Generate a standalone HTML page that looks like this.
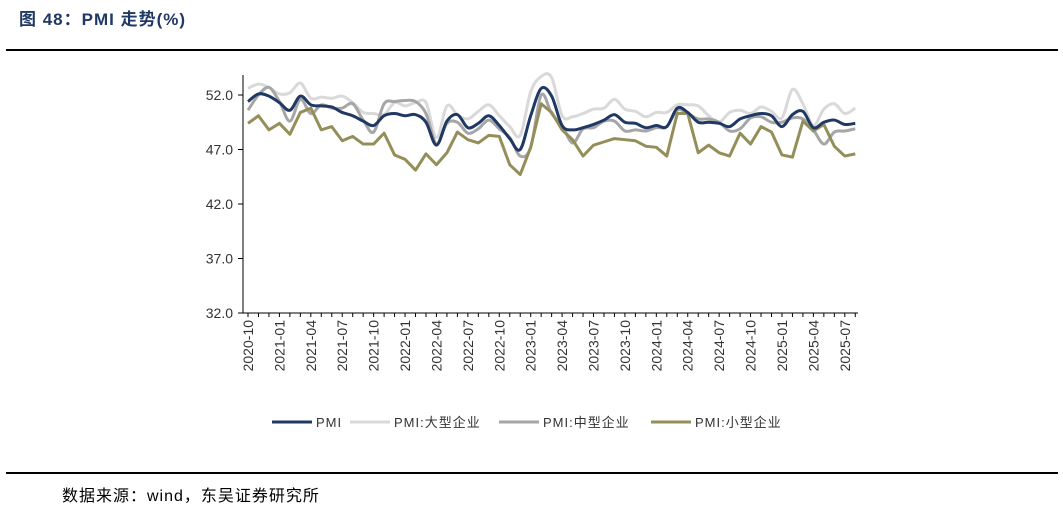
<!DOCTYPE html>
<html><head><meta charset="utf-8">
<style>
body{margin:0;width:1063px;height:521px;background:#fff;overflow:hidden;font-family:"Liberation Sans","Noto Sans CJK SC",sans-serif;position:relative}
#title{position:absolute;left:19px;top:5px;font-size:17px;font-weight:bold;color:#1f3864;letter-spacing:1px}
.rule{position:absolute;left:6px;width:1052px;height:2px;background:#000}
#source{position:absolute;left:62px;top:482px;font-size:16px;color:#000;letter-spacing:1px}
</style></head><body>
<div id="title">图 48：PMI 走势(%)</div>
<div class="rule" style="top:49px"></div>
<div class="rule" style="top:472px"></div>
<div id="source">数据来源：wind，东吴证券研究所</div>
<svg id="chart" width="1063" height="521" style="position:absolute;left:0;top:0"></svg>
<script>
const startYear=2020, startMonth=10;
const yTicks=[32,37,42,47,52];
const pmi=[51.4,52.1,51.9,51.3,50.6,51.9,51.1,51.0,50.9,50.4,50.1,49.6,49.2,50.1,50.3,50.1,50.2,49.5,47.4,49.6,50.2,49.0,49.4,50.1,49.2,48.0,47.0,50.1,52.6,51.9,49.2,48.8,49.0,49.3,49.7,50.2,49.5,49.4,49.0,49.2,49.1,50.8,50.4,49.5,49.5,49.4,49.1,49.8,50.1,50.3,50.1,49.1,50.2,50.5,49.0,49.5,49.7,49.3,49.4];
const large=[52.6,53.0,52.7,52.1,52.2,53.1,51.7,51.8,51.7,51.9,51.3,50.4,50.3,50.2,51.3,51.0,51.3,51.3,48.1,51.0,50.2,49.8,50.5,51.1,50.1,49.1,48.3,52.3,53.7,53.6,50.1,50.0,50.3,50.7,50.8,51.6,50.7,50.5,50.0,50.4,50.4,51.1,51.1,51.0,50.1,49.5,50.4,50.6,50.3,50.9,50.5,49.9,52.5,51.2,49.2,50.7,51.2,50.3,50.8];
const medium=[50.6,52.0,52.7,51.4,49.6,51.6,50.3,51.1,50.8,50.8,51.2,49.7,48.6,51.2,51.4,51.5,51.4,50.3,47.5,49.4,49.5,48.5,48.9,49.7,48.9,48.1,46.4,47.2,52.0,50.3,49.2,47.6,48.9,49.0,49.6,49.6,48.7,48.8,48.7,49.0,49.1,50.6,50.3,49.8,49.8,49.5,48.7,48.9,49.9,50.0,49.5,49.5,49.9,49.8,48.8,47.5,48.6,48.7,48.9];
const small=[49.4,50.1,48.8,49.4,48.4,50.4,50.8,48.8,49.1,47.8,48.2,47.5,47.5,48.5,46.5,46.1,45.1,46.6,45.6,46.7,48.6,47.9,47.6,48.3,48.2,45.6,44.7,47.2,51.2,50.4,48.8,47.9,46.4,47.4,47.7,48.0,47.9,47.8,47.3,47.2,46.4,50.3,50.3,46.7,47.4,46.7,46.4,48.5,47.5,49.1,48.6,46.5,46.3,49.6,48.7,49.3,47.3,46.4,46.6];
const seriesNames=["PMI","PMI:大型企业","PMI:中型企业","PMI:小型企业"];
const svg=document.getElementById('chart');
const NS='http://www.w3.org/2000/svg';
const x0=248,dx=10.47,yTop=95,yBot=313;
const xs=i=>x0+i*dx;
const ys=v=>yBot-(v-32)/(52-32)*(yBot-yTop);
function mk(t,a){const e=document.createElementNS(NS,t);for(const k in a)e.setAttribute(k,a[k]);svg.appendChild(e);return e;}
function smoothPath(d){
  const p=d.map((v,i)=>[xs(i),ys(v)]);
  let s='M'+p[0][0]+','+p[0][1];
  for(let i=0;i<p.length-1;i++){
    const a=p[i-1]||p[i],b=p[i],c=p[i+1],e=p[i+2]||c;
    const c1=[b[0]+(c[0]-a[0])/6,b[1]+(c[1]-a[1])/6];
    const c2=[c[0]-(e[0]-b[0])/6,c[1]-(e[1]-b[1])/6];
    s+=' C'+c1+' '+c2+' '+c;
  }
  return s;
}
let ax=mk('line',{x1:243,y1:75,x2:243,y2:313,stroke:'#000','stroke-width':1});


let bx=mk('line',{x1:243,y1:313,x2:858,y2:313,stroke:'#000','stroke-width':1});


yTicks.forEach(v=>{
  const tk=mk('line',{x1:238,x2:243,y1:ys(v),y2:ys(v),stroke:'#000'});
  
  
  const t=mk('text',{x:233,y:ys(v)+5,'text-anchor':'end','font-size':14,fill:'#333'});
  t.textContent=v.toFixed(1);
  
  
});
for(let i=0;i<pmi.length;i++){
  const tk=mk('line',{x1:xs(i),x2:xs(i),y1:313,y2:317,stroke:'#000'});
  
  
  if(i%3===0){
    const m=(startMonth-1+i)%12+1, y=startYear+Math.floor((startMonth-1+i)/12);
    const t=mk('text',{x:0,y:0,'text-anchor':'end','font-size':14,fill:'#333',transform:`translate(${xs(i)+5},320) rotate(-90)`});
    t.textContent=y+'-'+String(m).padStart(2,'0');
    
    
  }
}
const cfg=[[large,'#d9d9d9','series-large',true],[medium,'#a6a6a6','series-medium',true],[small,'#948f5a','series-small',false],[pmi,'#1f3864','series-pmi',true]];
cfg.forEach(([d,c,n,sm])=>{
  let p;
  if(sm) p=mk('path',{d:smoothPath(d),fill:'none',stroke:c,'stroke-width':3,'stroke-linejoin':'round'});
  else p=mk('polyline',{points:d.map((v,i)=>xs(i)+','+ys(v)).join(' '),fill:'none',stroke:c,'stroke-width':3,'stroke-linejoin':'round'});
  
  
});
const legCols=['#1f3864','#d9d9d9','#a6a6a6','#948f5a'];
const legX=[272,350,499,651];
seriesNames.forEach((s,i)=>{
  const l=mk('line',{x1:legX[i],x2:legX[i]+40,y1:422,y2:422,stroke:legCols[i],'stroke-width':3});
  
  
  const t=mk('text',{x:legX[i]+44,y:427,'font-size':13,fill:'#333','letter-spacing':'1'});
  t.textContent=s;
  
  
});
</script>
</body></html>
